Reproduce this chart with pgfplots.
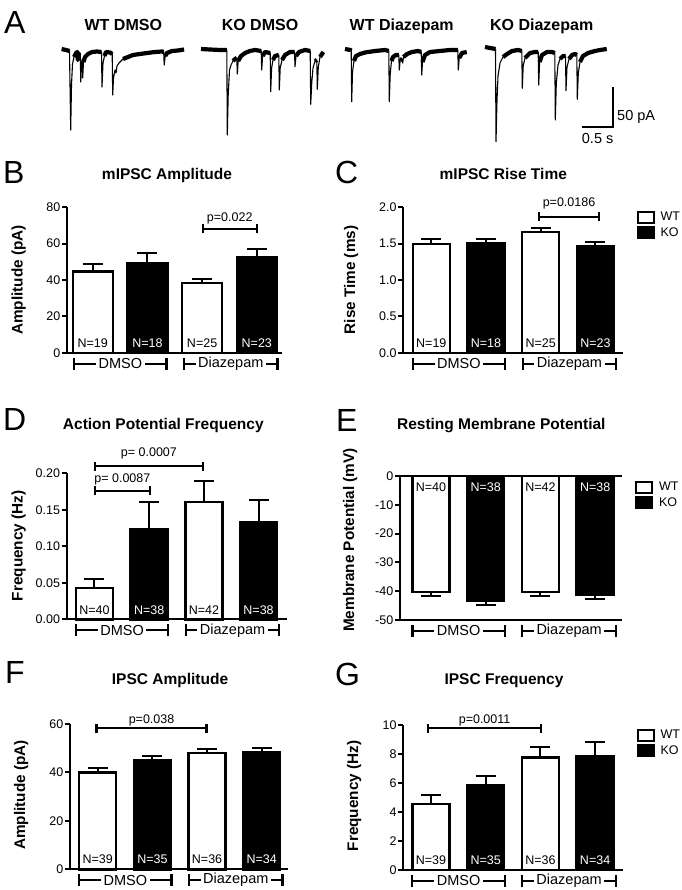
\documentclass[border=0pt]{standalone}
\usepackage{fontspec}
\setmainfont{Liberation Sans}
\usepackage{pgfplots}
\usepackage{pgfplotstable}
\pgfplotsset{compat=1.18}
\newcommand\fs[1]{\fontsize{#1}{#1}\selectfont}

% ---- traces of panel A (pixel coordinates, y downwards) ----
\pgfplotstableread{
x y
61.7 49
66 50
69.5 51
70.7 130
71.5 85
72.5 64
74 57
76 53
77.3 52
77.8 60
78.5 54
80.2 53
80.8 82
81.5 64
82.2 59
82.7 78
83.5 62
85 57
88 54
92 52
97 51.5
101.5 52
102 87
103 63
104.5 56
106 52
110 52.5
112.2 54
112.7 95
113.5 78
115 70
116 73
117 66
119 63
123 59
128 57
133 55
140 54
147 53
155 52
162 51.5
163.7 52
164.2 65
165.2 56
167 53
172 51
178 50.5
184 49.5
}\trWD
\pgfplotstableread{
x y
201 49
210 49.5
220 50
226.8 50
227.3 135
228.2 95
229.5 70
231 65
233 61
235 59
236.8 58
237.3 74
238.2 61
241 56
245 53
250 51
255 50
261.2 51
261.7 70
262.6 56
265 52
270.2 53
270.7 91.7
271.6 68
273 60
275 56
278.8 55
279.3 90
280.2 68
282 60
285 55
290 52
294.5 52
295 66.7
296 56
299 52
305 50
310.2 51
310.7 104.3
311.8 82
313 68
315 61
316.8 60
317.3 89.3
318.3 67
320 57
323.3 52
}\trKD
\pgfplotstableread{
x y
345 49
350.5 50
351.2 50.5
351.7 101.7
352.5 72
354 61
356 56
360 54
365 52.5
375 51
385 50
388.8 51
389.3 101.7
390.2 74
391.5 61
393 57
396 55
398.8 55
399.3 70
400.2 60
402.2 59
402.7 63
403.5 57
407 54
412 52
418 51
421.2 52
421.7 75
422.5 62
425 55
430 52
440 51
450 50
457.8 50
458.3 70
459.2 58
462 53
466.7 52
}\trWZ
\pgfplotstableread{
x y
485 47
490 48
495.5 49
496 141.7
497 100
498 76
500 63
503 57
507 54
512 51
518 50
521.8 51
522.3 88.3
523.2 66
525 58
530 53
535 52
538.2 52
538.7 85
539.6 62
542 55
547 52
552 52
554.8 53
555.3 120
556.3 83
558 65
560 59
563 56
565.5 56
566 90.7
567 67
569 59
572 55
575 54
576.8 55
577.3 99.3
578.3 73
580 62
583 56
588 53
595 51
600 50
606.7 49
}\trKZ

\pgfplotsset{
  gp/.style={
    scale only axis, clip=false,
    axis x line*=bottom, axis y line*=left,
    axis line style={line width=2.3pt,-},
    xtick=\empty,
    tick align=outside, major tick length=5pt,
    ytick style={line width=2pt,black},
    yticklabel style={font=\fs{12.5}, inner sep=1.5pt},
    /pgf/number format/assume math mode=true,
    legend style={draw=none, fill=none, inner sep=0pt, outer sep=0pt,
      font=\fs{12.5}, row sep=2.5pt, nodes={inner sep=1pt, anchor=west},
      /tikz/every odd column/.append style={column sep=5pt}},
    legend cell align=left,
  },
  barbase/.style={ybar, bar shift=0pt, draw=black, line width=2.4pt,
    legend image code/.code={\draw[##1, line width=2pt] (0pt,-5.5pt) rectangle (16pt,5.5pt);},
    error bars/y dir=plus, error bars/y explicit,
    error bars/error bar style={line width=2pt, black},
    error bars/error mark options={rotate=90, line width=2pt, mark size=10pt, black}},
  wt/.style={barbase, fill=white},
  ko/.style={barbase, fill=black},
  thin/.style={black, line width=1.1pt, line join=round},
  band/.style={black, line width=4.2pt, line join=round, restrict y to domain=0:62, unbounded coords=jump},
}

\newcommand\catbr[4]{%
  \draw[line width=2.2pt] ([yshift=-6pt]axis cs:#1,#3) -- ([yshift=6pt]axis cs:#1,#3);
  \draw[line width=2.2pt] ([yshift=-6pt]axis cs:#2,#3) -- ([yshift=6pt]axis cs:#2,#3);
  \draw[line width=2.2pt] (axis cs:#1,#3) -- (axis cs:#2,#3) node[midway, fill=white, inner xsep=2.5pt, inner ysep=0pt, font=\fs{14.5}]{#4};
}
\newcommand\pbr[5]{%
  \draw[line width=2.2pt] ([yshift=-4.5pt]axis cs:#1,#3) -- ([yshift=4.5pt]axis cs:#1,#3);
  \draw[line width=2.2pt] ([yshift=-4.5pt]axis cs:#2,#3) -- ([yshift=4.5pt]axis cs:#2,#3);
  \draw[line width=2.2pt] (axis cs:#1,#3) -- (axis cs:#2,#3) node[midway, anchor=base, yshift=#5, font=\fs{12.5}, inner sep=0pt]{#4};
}
\newcommand\nlab[4]{\node[anchor=base, font=\fs{12.5}, text=#3, inner sep=0pt, yshift=#4] at (axis cs:#1,0) {#2};}
\newcommand\cats[1]{\catbr{0.66}{2.35}{#1}{DMSO}\catbr{2.67}{4.38}{#1}{Diazepam}}

\begin{document}
\begin{tikzpicture}
\path[use as bounding box] (0pt,0pt) rectangle (681pt,-890pt);

% ---------- Panel A ----------
\begin{axis}[at={(0pt,0pt)}, anchor=north west, scale only axis, width=681pt, height=150pt,
  xmin=0, xmax=681, ymin=0, ymax=150, y dir=reverse, hide axis, clip=false]
\addplot[thin] table[x=x,y=y] {\trWD};
\addplot[band] table[x=x,y=y] {\trWD};
\addplot[thin] table[x=x,y=y] {\trKD};
\addplot[band] table[x=x,y=y] {\trKD};
\addplot[thin] table[x=x,y=y] {\trWZ};
\addplot[band] table[x=x,y=y] {\trWZ};
\addplot[thin] table[x=x,y=y] {\trKZ};
\addplot[band] table[x=x,y=y] {\trKZ};
\addplot[black, line width=1.8pt] coordinates {(581.7,127.3) (613.3,127.3) (613.3,86.7)};
\end{axis}
\node[anchor=base west, font=\fs{32}, inner sep=0pt] at (4pt,-34pt) {A};
\node[anchor=base, font=\bfseries\fs{16}, inner sep=0pt] at (123.3pt,-30.7pt) {WT DMSO};
\node[anchor=base, font=\bfseries\fs{16}, inner sep=0pt] at (260pt,-30.7pt) {KO DMSO};
\node[anchor=base, font=\bfseries\fs{16}, inner sep=0pt] at (401.7pt,-30.7pt) {WT Diazepam};
\node[anchor=base, font=\bfseries\fs{16}, inner sep=0pt] at (541.7pt,-30.7pt) {KO Diazepam};
\node[anchor=base west, font=\fs{14.5}, inner sep=0pt] at (617pt,-121pt) {50 pA};
\node[anchor=base west, font=\fs{14.5}, inner sep=0pt] at (581.7pt,-143.3pt) {0.5 s};

% ---------- Panel B ----------
\begin{axis}[gp, at={(67pt,-352.7pt)}, anchor=south west, width=215pt, height=145.4pt,
  xmin=0.530, xmax=4.461, ymin=0, ymax=80, ytick={0,20,40,60,80}, yticklabels={0,20,40,60,80}]
\addplot[wt, bar width=40pt] coordinates {(1,44.6) +- (0,4.2) (3,38.2) +- (0,2.3)};
\addplot[ko, bar width=40pt] coordinates {(2,49.4) +- (0,5.6) (4,52.3) +- (0,4.9)};
\nlab{1}{N=19}{black}{5pt}\nlab{2}{N=18}{white}{5pt}\nlab{3}{N=25}{black}{5pt}\nlab{4}{N=23}{white}{5pt}
\pbr{3.01}{4.0}{68.1}{p=0.022}{7.3pt}
\cats{-6.05}
\end{axis}

% ---------- Panel C ----------
\begin{axis}[gp, at={(403.3pt,-352.7pt)}, anchor=south west, width=219.7pt, height=145.4pt,
  xmin=0.488, xmax=4.504, ymin=0, ymax=2, ytick={0,0.5,1,1.5,2}, yticklabels={0.0,0.5,1.0,1.5,2.0},
  legend style={at={(axis description cs:1.062,0.975)}, anchor=north west}]
\addplot[wt, bar width=37pt] coordinates {(1,1.495) +- (0,0.065) (3,1.66) +- (0,0.055)};
\addlegendentry{WT}
\addplot[ko, bar width=37pt] coordinates {(2,1.50) +- (0,0.07) (4,1.47) +- (0,0.05)};
\addlegendentry{KO}
\nlab{1}{N=19}{black}{5pt}\nlab{2}{N=18}{white}{5pt}\nlab{3}{N=25}{black}{5pt}\nlab{4}{N=23}{white}{5pt}
\pbr{2.974}{4.06}{1.871}{p=0.0186}{10pt}
\cats{-0.151}
\end{axis}

% ---------- Panel D ----------
\begin{axis}[gp, at={(66.7pt,-619.3pt)}, anchor=south west, width=220.6pt, height=146pt,
  xmin=0.492, xmax=4.525, ymin=0, ymax=0.2, ytick={0,0.05,0.1,0.15,0.2}, yticklabels={0.00,0.05,0.10,0.15,0.20}]
\addplot[wt, bar width=37pt] coordinates {(1,0.0425) +- (0,0.0123) (3,0.1607) +- (0,0.0293)};
\addplot[ko, bar width=37pt] coordinates {(2,0.124) +- (0,0.0367) (4,0.1333) +- (0,0.0305)};
\nlab{1}{N=40}{black}{5pt}\nlab{2}{N=38}{white}{5pt}\nlab{3}{N=42}{black}{5pt}\nlab{4}{N=38}{white}{5pt}
\pbr{1.01}{2.01}{0.1758}{p= 0.0087}{8.3pt}
\pbr{1.01}{2.98}{0.2100}{p= 0.0007}{9.3pt}
\cats{-0.0151}
\end{axis}

% ---------- Panel E ----------
\begin{axis}[gp, axis x line*=box, at={(400pt,-620pt)}, anchor=south west, width=221.7pt, height=144pt,
  xmin=0.433, xmax=4.486, ymin=-50, ymax=0, ytick={-50,-40,-30,-20,-10,0}, yticklabels={-50,-40,-30,-20,-10,0},
  legend style={at={(axis description cs:1.06,0.968)}, anchor=north west}]
\addplot[wt, bar width=37pt, error bars/y dir=minus] coordinates {(1,-40.2) +- (0,1.5) (3,-40.2) +- (0,1.5)};
\addlegendentry{WT}
\addplot[ko, bar width=37pt, error bars/y dir=minus] coordinates {(2,-43.3) +- (0,1.6) (4,-41.2) +- (0,1.5)};
\addlegendentry{KO}
\nlab{1}{N=40}{black}{-15pt}\nlab{2}{N=38}{white}{-15pt}\nlab{3}{N=42}{black}{-15pt}\nlab{4}{N=38}{white}{-15pt}
\cats{-53.8}
\end{axis}

% ---------- Panel F ----------
\begin{axis}[gp, at={(70pt,-869.3pt)}, anchor=south west, width=218.3pt, height=145.3pt,
  xmin=0.494, xmax=4.485, ymin=0, ymax=60, ytick={0,20,40,60}, yticklabels={0,20,40,60}]
\addplot[wt, bar width=37pt] coordinates {(1,40.0) +- (0,1.7) (3,48.1) +- (0,1.7)};
\addplot[ko, bar width=37pt] coordinates {(2,45.1) +- (0,1.6) (4,48.4) +- (0,1.8)};
\nlab{1}{N=39}{black}{6pt}\nlab{2}{N=35}{white}{6pt}\nlab{3}{N=36}{black}{6pt}\nlab{4}{N=34}{white}{6pt}
\pbr{0.98}{2.99}{58.2}{p=0.038}{5pt}
\cats{-4.42}
\end{axis}

% ---------- Panel G ----------
\begin{axis}[gp, at={(403.3pt,-870pt)}, anchor=south west, width=219.7pt, height=145pt,
  xmin=0.494, xmax=4.51, ymin=0, ymax=10, ytick={0,2,4,6,8,10}, yticklabels={0,2,4,6,8,10},
  legend style={at={(axis description cs:1.062,0.975)}, anchor=north west}]
\addplot[wt, bar width=37pt] coordinates {(1,4.55) +- (0,0.6) (3,7.77) +- (0,0.69)};
\addlegendentry{WT}
\addplot[ko, bar width=37pt] coordinates {(2,5.86) +- (0,0.62) (4,7.86) +- (0,0.99)};
\addlegendentry{KO}
\nlab{1}{N=39}{black}{5.5pt}\nlab{2}{N=35}{white}{5.5pt}\nlab{3}{N=36}{black}{5.5pt}\nlab{4}{N=34}{white}{5.5pt}
\pbr{0.95}{3.01}{9.77}{p=0.0011}{5pt}
\cats{-0.74}
\end{axis}

% ---------- panel letters, titles, y labels ----------
\node[anchor=base west, font=\fs{32}, inner sep=0pt] at (3pt,-183.3pt) {B};
\node[anchor=base west, font=\fs{32}, inner sep=0pt] at (335pt,-183.3pt) {C};
\node[anchor=base west, font=\fs{32}, inner sep=0pt] at (3pt,-430pt) {D};
\node[anchor=base west, font=\fs{32}, inner sep=0pt] at (336pt,-431.7pt) {E};
\node[anchor=base west, font=\fs{32}, inner sep=0pt] at (5pt,-683.5pt) {F};
\node[anchor=base west, font=\fs{32}, inner sep=0pt] at (335pt,-685pt) {G};

\node[anchor=base, font=\bfseries\fs{15.5}, inner sep=0pt] at (167pt,-179.3pt) {mIPSC Amplitude};
\node[anchor=base, font=\bfseries\fs{15.5}, inner sep=0pt] at (503.3pt,-179.3pt) {mIPSC Rise Time};
\node[anchor=base, font=\bfseries\fs{15.5}, inner sep=0pt] at (163.3pt,-429pt) {Action Potential Frequency};
\node[anchor=base, font=\bfseries\fs{15.5}, inner sep=0pt] at (501.3pt,-429pt) {Resting Membrane Potential};
\node[anchor=base, font=\bfseries\fs{15.5}, inner sep=0pt] at (170pt,-684pt) {IPSC Amplitude};
\node[anchor=base, font=\bfseries\fs{15.5}, inner sep=0pt] at (504pt,-684pt) {IPSC Frequency};

\node[rotate=90, anchor=base, font=\bfseries\fs{15.3}, inner sep=0pt] at (22.7pt,-280pt) {Amplitude (pA)};
\node[rotate=90, anchor=base, font=\bfseries\fs{15.3}, inner sep=0pt] at (355pt,-280pt) {Rise Time (ms)};
\node[rotate=90, anchor=base, font=\bfseries\fs{15.3}, inner sep=0pt] at (22.7pt,-545.8pt) {Frequency (Hz)};
\node[rotate=90, anchor=base, font=\bfseries\fs{15.3}, inner sep=0pt] at (354pt,-540pt) {Membrane Potential (mV)};
\node[rotate=90, anchor=base, font=\bfseries\fs{15.3}, inner sep=0pt] at (25pt,-795pt) {Amplitude (pA)};
\node[rotate=90, anchor=base, font=\bfseries\fs{15.3}, inner sep=0pt] at (358pt,-796pt) {Frequency (Hz)};
\end{tikzpicture}
\end{document}
